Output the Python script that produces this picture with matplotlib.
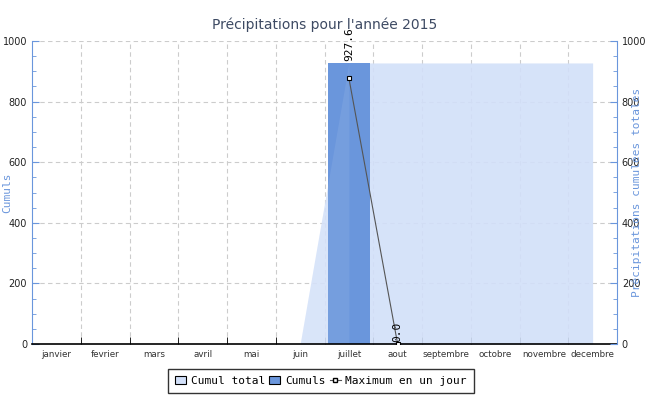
import matplotlib
matplotlib.use("Agg")
import matplotlib.pyplot as plt
import numpy as np
from matplotlib.ticker import MultipleLocator, FixedLocator
from matplotlib.patches import Patch
from matplotlib.lines import Line2D

months = ["janvier", "fevrier", "mars", "avril", "mai", "juin",
          "juillet", "aout", "septembre", "octobre", "novembre", "decembre"]
cumuls = [np.nan, np.nan, np.nan, np.nan, np.nan, np.nan, 927.6, 0.0,
          np.nan, np.nan, np.nan, np.nan]
cumul_total = [0, 0, 0, 0, 0, 0, 927.6, 927.6, 927.6, 927.6, 927.6, 927.6]
max_jour = [np.nan, np.nan, np.nan, np.nan, np.nan, np.nan, 878.0, 0.0,
            np.nan, np.nan, np.nan, np.nan]

blue_axis = "#6a96dc"
bar_color = "#6a96dc"
area_color = "#d2e0f9"

fig = plt.figure(figsize=(6.5, 4.0), dpi=100)
ax = fig.add_axes([32/650, 56/400, 585/650, 303/400])
x = np.arange(len(months))

ax.bar(x, np.nan_to_num(cumuls), width=0.86, color=bar_color, zorder=1)
ax.fill_between(x, cumul_total, 0, color=area_color, alpha=0.9, zorder=0.9, linewidth=0)
ax.fill_between(x[5:7], cumul_total[5:7], 0, color="white", alpha=0.08, zorder=1.5, linewidth=0)
ax.plot(x, max_jour, color="#555555", linewidth=0.8, marker="s", markersize=3.2,
        markerfacecolor="white", markeredgecolor="black", markeredgewidth=0.8, zorder=4)

for xi, v in zip(x, cumuls):
    if not np.isnan(v):
        ax.text(xi, v + 8, f"{v:.1f}", rotation=90, ha="center", va="bottom",
                fontsize=8, family="DejaVu Sans Mono", color="black", zorder=5)

ax.set_xlim(-0.5, 11.5)
ax.set_ylim(0, 1000)
ax.set_xticks(x)
ax.set_xticklabels(months, fontsize=6.3, color="#333333")
ax.tick_params(axis="x", which="major", length=0, pad=4)
ax.xaxis.set_minor_locator(FixedLocator(np.arange(0.5, 11.0, 1.0)))
ax.tick_params(axis="x", which="minor", direction="in", length=5, color="black")

ax.yaxis.set_major_locator(MultipleLocator(200))
ax.yaxis.set_minor_locator(MultipleLocator(50))
ax.tick_params(axis="y", which="both", direction="in", colors=blue_axis,
               labelcolor="#222222", labelsize=7)
ax.tick_params(axis="y", which="major", length=5)
ax.tick_params(axis="y", which="minor", length=3)

ax.grid(True, which="major", axis="y", linestyle=(0, (4, 3)), color="#cccccc", linewidth=0.8)
ax.grid(True, which="minor", axis="x", linestyle=(0, (4, 3)), color="#cccccc", linewidth=0.8)
ax.set_axisbelow(True)

ax.spines["top"].set_visible(False)
ax.spines["left"].set_color(blue_axis)
ax.spines["right"].set_visible(False)
ax.spines["bottom"].set_color("black")
ax.spines["bottom"].set_linewidth(1.2)

ax.set_ylabel("Cumuls", color=blue_axis, fontsize=8, family="DejaVu Sans Mono")
ax.yaxis.set_label_coords(-0.0342, 0.5)

ax2 = ax.twinx()
ax2.set_ylim(0, 1000)
ax2.yaxis.set_major_locator(MultipleLocator(200))
ax2.yaxis.set_minor_locator(MultipleLocator(50))
ax2.tick_params(axis="y", which="both", direction="in", colors=blue_axis,
                labelcolor="#222222", labelsize=7)
ax2.tick_params(axis="y", which="major", length=5)
ax2.tick_params(axis="y", which="minor", length=3)
for s in ["top", "left", "bottom"]:
    ax2.spines[s].set_visible(False)
ax2.spines["right"].set_color(blue_axis)
ax2.set_ylabel("Précipitations cumulées totales", color=blue_axis, fontsize=8,
               family="DejaVu Sans Mono")
ax2.yaxis.set_label_coords(1.0256, 0.5)

fig.suptitle("Précipitations pour l'année 2015", y=0.955, fontsize=10, color="#3d4a63")

handles = [Patch(facecolor=area_color, edgecolor="black", linewidth=0.8),
           Patch(facecolor=bar_color, edgecolor="black", linewidth=0.8),
           Line2D([], [], color="#555555", linewidth=0.8, marker="s", markersize=3,
                  markerfacecolor="white", markeredgecolor="black")]
leg = fig.legend(handles, ["Cumul total", "Cumuls", "Maximum en un jour"],
                 loc="center", bbox_to_anchor=(321/650, 19/400), ncol=3,
                 prop={"family": "DejaVu Sans Mono", "size": 8}, frameon=True,
                 fancybox=False, edgecolor="black", handlelength=1.0, handletextpad=0.4,
                 columnspacing=0.4, borderpad=0.6)
leg.get_frame().set_linewidth(1.0)

fig.savefig("out.png", dpi=100)
